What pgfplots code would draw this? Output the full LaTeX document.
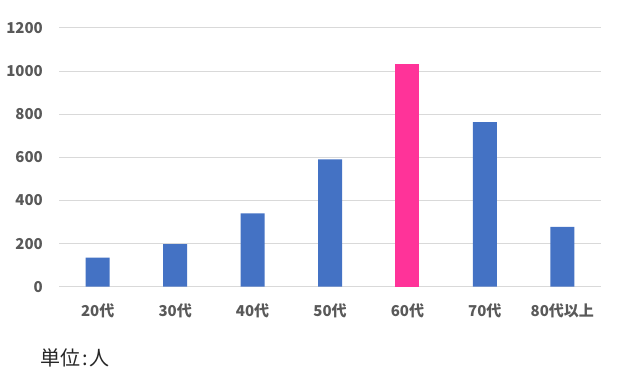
\documentclass[border=0pt]{standalone}
\usepackage{pgfplots}
\pgfplotsset{compat=1.18}
\usepackage{fontspec}
\setmainfont{Noto Sans CJK JP}
\newfontfamily\jp{Noto Sans CJK JP}
\definecolor{barblue}{HTML}{4472C4}
\definecolor{barpink}{HTML}{FF3399}
\definecolor{txt}{HTML}{595959}
\definecolor{gridc}{HTML}{D9D9D9}
\begin{document}
\begin{tikzpicture}[x=1pt,y=1pt]
\path[use as bounding box] (0,0) rectangle (640,385);
\begin{axis}[
  at={(59pt,98.3pt)}, anchor=south west,
  scale only axis, width=542pt, height=258.7pt,
  xmin=-0.5, xmax=6.5, ymin=0, ymax=1200,
  ytick={0,200,...,1200},
  xtick={0,...,6},
  xticklabels={20代,30代,40代,50代,60代,70代,80代以上},
  axis line style={draw=none},
  major tick length=0pt,
  ymajorgrids, grid style={gridc, line width=1pt},
  /pgf/number format/assume math mode=true,
  /pgf/number format/1000 sep={},
  yticklabel style={font=\jp\bfseries\fontsize{15}{15}\selectfont, text=txt, inner sep=0pt, anchor=east, xshift=-16pt},
  xticklabel style={font=\jp\bfseries\fontsize{15}{15}\selectfont, text=txt, inner sep=0pt, anchor=center, yshift=-24pt},
  clip=false,
]
\addplot[ybar, bar width=24pt, bar shift=0pt, fill=barblue, draw=none] coordinates {(0,135) (1,198) (2,340) (3,591) (5,763) (6,277)};
\addplot[ybar, bar width=24pt, bar shift=0pt, fill=barpink, draw=none] coordinates {(4,1033)};
\end{axis}
\node[anchor=west, inner sep=0pt, font=\jp\fontsize{20}{20}\selectfont, text=black!85] at (40,27) {単位\kern2pt:\kern2pt人};
\end{tikzpicture}
\end{document}
